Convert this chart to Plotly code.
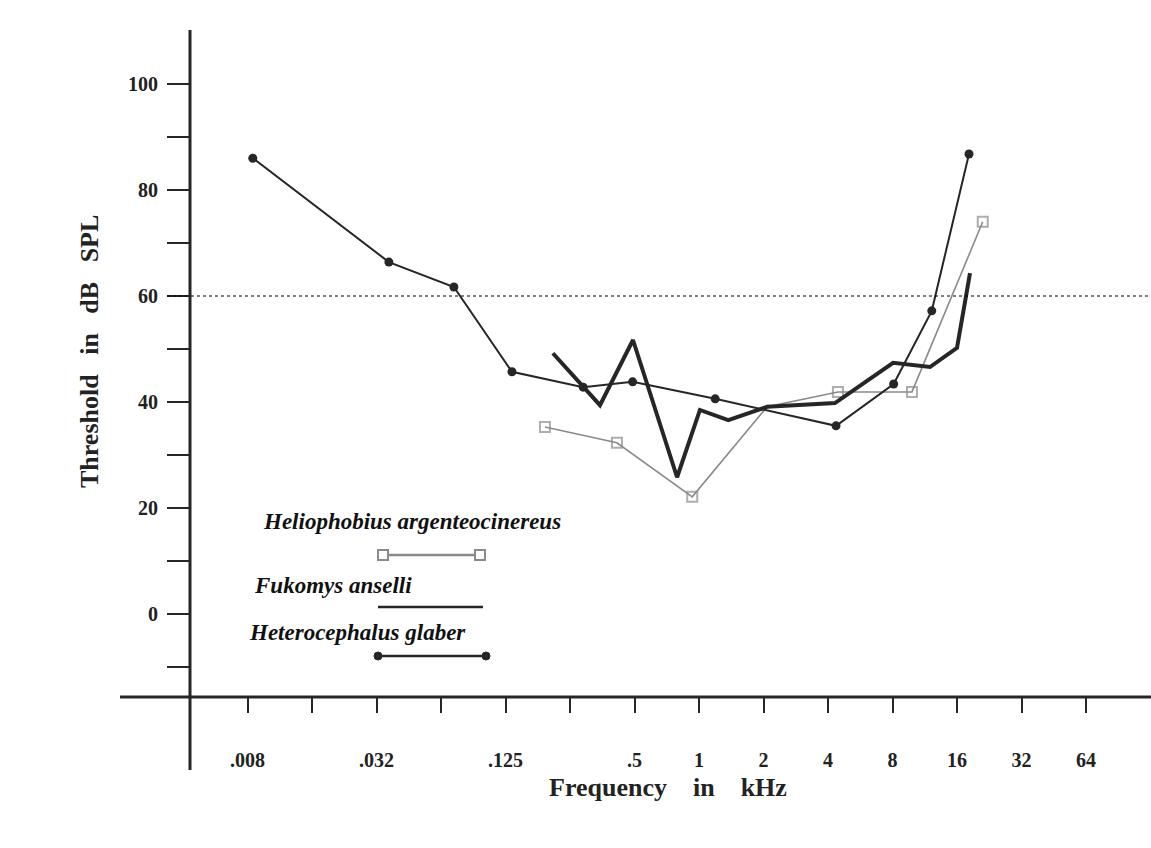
import plotly.graph_objects as go
import math

# ---------------- data ----------------
# frequencies in kHz, thresholds in dB SPL
helio_f = [0.191, 0.414, 0.93, 2.08, 4.45, 9.86, 21.1]
helio_db = [35.3, 32.3, 22.1, 39.1, 41.9, 41.9, 74.0]

fuko_f = [0.208, 0.345, 0.492, 0.79, 1.01, 1.37, 2.08, 4.31, 8.05, 11.97, 16.0, 18.4]
fuko_db = [49.2, 39.4, 51.7, 25.8, 38.5, 36.6, 39.1, 39.8, 47.4, 46.6, 50.2, 64.3]

hetero_f = [0.00827, 0.0357, 0.0718, 0.134, 0.288, 0.49, 1.19, 4.36, 8.1, 12.2, 18.2]
hetero_db = [86.0, 66.4, 61.7, 45.7, 42.8, 43.8, 40.6, 35.5, 43.4, 57.2, 86.8]

x_tickvals = [1/128, 1/64, 1/32, 1/16, 1/8, 1/4, 1/2, 1, 2, 4, 8, 16, 32, 64]
x_ticktext = [".008", "", ".032", "", ".125", "", ".5", "1", "2", "4", "8", "16", "32", "64"]
y_tickvals = [-10, 0, 10, 20, 30, 40, 50, 60, 70, 80, 90, 100]
y_ticktext = ["", "0", "", "20", "", "40", "", "60", "", "80", "", "100"]

species = ["Heliophobius argenteocinereus", "Fukomys anselli", "Heterocephalus glaber"]
reference_level = 60

# ---------------- layout helpers ----------------
W, H = 1151, 848
L, R, T, B = 190, 6, 30, 151
PW, PH = W - L - R, H - T - B

def px(xp):
    return (xp - L) / PW

def py(yp):
    return (H - B - yp) / PH

DARK = "#262626"
GREY = "#8a8a8a"
SERIF = "Liberation Serif"

fig = go.Figure()

helio_sizes = [10 if i != 3 else 0 for i in range(len(helio_f))]
fig.add_trace(go.Scatter(
    x=helio_f, y=helio_db, mode="lines+markers", name=species[0],
    line=dict(color=GREY, width=1.6),
    marker=dict(symbol="square-open", size=helio_sizes, color=GREY, line=dict(width=2, color=GREY)),
))
fig.add_trace(go.Scatter(
    x=fuko_f, y=fuko_db, mode="lines", name=species[1],
    line=dict(color=DARK, width=4),
))
fig.add_trace(go.Scatter(
    x=hetero_f, y=hetero_db, mode="lines+markers", name=species[2],
    line=dict(color=DARK, width=2),
    marker=dict(symbol="circle", size=9, color=DARK),
))

x_lo = math.log10(2 ** ((L - 699) / 64.5))
x_hi = math.log10(2 ** ((W - R - 699) / 64.5))

shapes = [
    dict(type="line", xref="paper", yref="paper", x0=0, x1=0, y0=py(770), y1=py(30),
         line=dict(color=DARK, width=3)),
    dict(type="line", xref="paper", yref="paper", x0=px(120), x1=px(1151), y0=0, y1=0,
         line=dict(color=DARK, width=3)),
    dict(type="line", xref="paper", yref="y", x0=px(167), x1=px(1151),
         y0=reference_level, y1=reference_level,
         line=dict(color="#000", width=1, dash="dot")),
]

def square(xc, yc, s=5):
    return dict(type="rect", xref="paper", yref="paper", x0=px(xc - s), x1=px(xc + s),
                y0=py(yc + s), y1=py(yc - s), line=dict(color=GREY, width=2), fillcolor="white")

def dot(xc, yc, r=4):
    return dict(type="circle", xref="paper", yref="paper", x0=px(xc - r), x1=px(xc + r),
                y0=py(yc + r), y1=py(yc - r), line=dict(color=DARK, width=1), fillcolor=DARK)

shapes += [
    dict(type="line", xref="paper", yref="paper", x0=px(383), x1=px(480), y0=py(555), y1=py(555),
         line=dict(color=GREY, width=2.5)),
    square(383, 555), square(480, 555),
    dict(type="line", xref="paper", yref="paper", x0=px(378), x1=px(483), y0=py(607), y1=py(607),
         line=dict(color=DARK, width=2.5)),
    dict(type="line", xref="paper", yref="paper", x0=px(378), x1=px(486), y0=py(656), y1=py(656),
         line=dict(color=DARK, width=2.5)),
    dot(378, 656), dot(486, 656),
]

legend_font = dict(family=SERIF, size=23, color="#111", weight="bold", style="italic")
title_font = dict(family=SERIF, size=26, color="#222", weight="bold")
annotations = [
    dict(text=species[0], x=px(412), y=py(521), xref="paper", yref="paper",
         showarrow=False, font=legend_font, xanchor="center", yanchor="middle"),
    dict(text=species[1], x=px(333), y=py(585), xref="paper", yref="paper",
         showarrow=False, font=legend_font, xanchor="center", yanchor="middle"),
    dict(text=species[2], x=px(357), y=py(632), xref="paper", yref="paper",
         showarrow=False, font=legend_font, xanchor="center", yanchor="middle"),
    dict(text="Threshold   in   dB   SPL", x=px(89), y=py(352), xref="paper", yref="paper",
         showarrow=False, textangle=-90, xanchor="center", yanchor="middle", font=title_font),
    dict(text="Frequency    in    kHz", x=px(668), y=py(787), xref="paper", yref="paper",
         showarrow=False, xanchor="center", yanchor="middle", font=title_font),
]

tick_font = dict(family=SERIF, size=20, color="#222", weight="bold")
fig.update_layout(
    width=W, height=H,
    margin=dict(l=L, r=R, t=T, b=B),
    paper_bgcolor="white", plot_bgcolor="white",
    showlegend=False,
    shapes=shapes, annotations=annotations,
    xaxis=dict(type="log", range=[x_lo, x_hi], tickvals=x_tickvals, ticktext=x_ticktext,
               ticks="outside", ticklen=15, tickwidth=2, tickcolor=DARK,
               showline=False, showgrid=False, zeroline=False, ticklabelstandoff=30,
               tickfont=tick_font),
    yaxis=dict(range=[(614 - (H - B)) / 5.3, (614 - T) / 5.3], tickvals=y_tickvals, ticktext=y_ticktext,
               ticks="outside", ticklen=22, tickwidth=2, tickcolor=DARK,
               showline=False, showgrid=False, zeroline=False, ticklabelstandoff=5,
               tickfont=tick_font),
)

fig.write_html("out.html")
